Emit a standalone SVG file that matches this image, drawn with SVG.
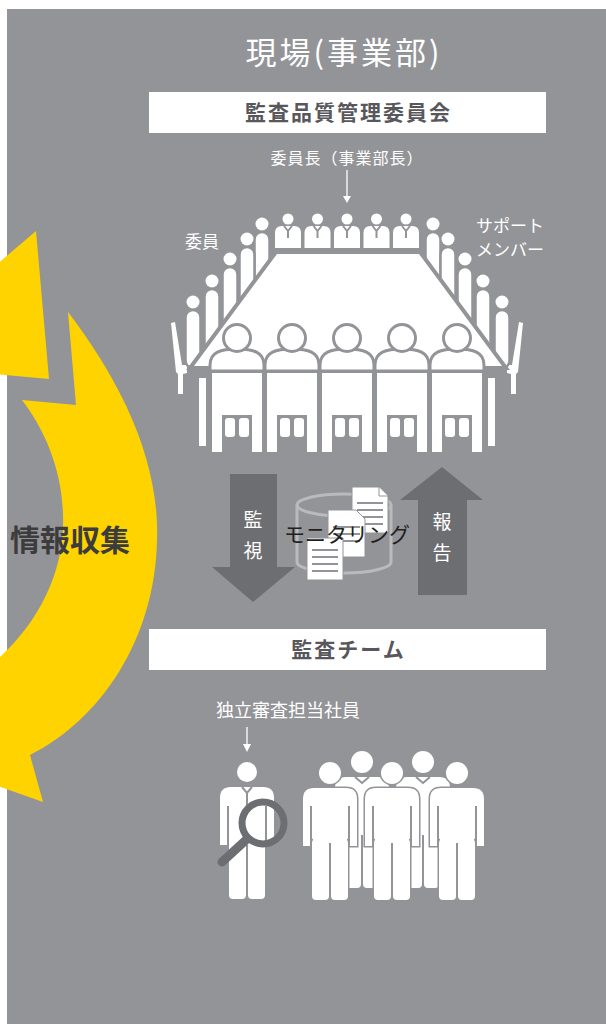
<svg xmlns="http://www.w3.org/2000/svg" width="606" height="1024" viewBox="0 0 606 1024">
<defs>
<style>
.jp{font-family:"Noto Sans CJK JP","Noto Sans",sans-serif}
.lbl{fill:#fff}
.boxt{font-weight:bold;fill:#58585c;font-size:21px}
.w{fill:#fff}
.g{fill:#939498}
.dk{fill:#6d6e71}
.cut{fill:#fff;stroke:#939498;stroke-width:3}
.sb{fill:#fff;stroke:#939498;stroke-width:2.5}
.ln{stroke:#939498;stroke-width:2;fill:none}
.pg{fill:#fff;stroke:#939498;stroke-width:1}
.fo{fill:#fff;stroke:#939498;stroke-width:3;paint-order:stroke}
</style>
<path id="pers" d="M-27,58 V11 Q-27,0 -16,0 H16 Q27,0 27,11 V58 Z"/>
</defs>

<rect width="606" height="1024" fill="#fff"/>
<rect x="7" y="9" width="599" height="1015" fill="#939498"/>

<!-- cycle arrow -->
<g id="cycle-arrow" fill="#fed300">
<path d="M-5,266 L36,231 L49,379 L-5,374 Z"/>
<path d="M68,312 C120,380 160,460 157,540 C155,640 100,720 30,755 L43,802 L-5,785 L-5,660 L0,657 C40,620 65,570 63,515 C62,470 45,430 22,400 L76,405 Z"/>
</g>
<text id="info-label" class="jp" x="70" y="551" font-size="30" font-weight="bold" fill="#3c3c3e" text-anchor="middle">情報収集</text>

<!-- header -->
<text id="title" class="jp lbl" x="344" y="64" font-size="31" letter-spacing="3" text-anchor="middle">現場(事業部)</text>

<g id="committee-box">
<rect x="149" y="92" width="397" height="41" fill="#fff"/>
<text class="jp boxt" x="348.5" y="120" text-anchor="middle" letter-spacing="2">監査品質管理委員会</text>
</g>

<g id="labels" class="jp lbl" font-size="16">
<text x="347" y="164" text-anchor="middle" letter-spacing="1">委員長（事業部長）</text>
<text x="202" y="248" text-anchor="middle" font-size="17">委員</text>
<text x="510" y="232" text-anchor="middle" font-size="17">サポート</text>
<text x="510" y="256" text-anchor="middle" font-size="17">メンバー</text>
</g>

<g id="connectors" stroke="#fff" stroke-width="1.3" fill="none">
<line x1="347" y1="170" x2="347" y2="200"/>
<path d="M343,196 L347,203 L351,196 Z" fill="#fff" stroke="none"/>
<line x1="247" y1="727" x2="247" y2="748"/>
<path d="M243,744 L247,752 L251,744 Z" fill="#fff" stroke="none"/>
</g>

<!-- meeting table -->
<g id="meeting">
<!-- side chairs and table legs -->
<g id="side-left">
<polygon class="w" points="171,323 175,322 182,365 187,365 187,373 183,374 183,394 178,394 178,374 176,372"/>
<rect class="w" x="199" y="378" width="7" height="68"/>
</g>
<g id="side-right" transform="translate(694,0) scale(-1,1)">
<polygon class="w" points="171,323 175,322 182,365 187,365 187,373 183,374 183,394 178,394 178,374 176,372"/>
<rect class="w" x="199" y="378" width="7" height="68"/>
</g>
<!-- members along left side -->
<g id="left-members">
<circle class="w" cx="262" cy="224" r="6.5"/><rect class="sb" x="254.5" y="232" width="15" height="62" rx="7.5"/>
<circle class="w" cx="247" cy="239" r="6.5"/><rect class="sb" x="239.5" y="247" width="15" height="62" rx="7.5"/>
<circle class="w" cx="230" cy="259" r="6.5"/><rect class="sb" x="222.5" y="267" width="15" height="62" rx="7.5"/>
<circle class="w" cx="212" cy="281" r="6.5"/><rect class="sb" x="204.5" y="289" width="15" height="62" rx="7.5"/>
<circle class="w" cx="193" cy="302" r="6.5"/><rect class="sb" x="185.5" y="310" width="15" height="58" rx="7.5"/>
</g>
<!-- support members along right side -->
<g id="right-members">
<circle class="w" cx="433" cy="224" r="6.5"/><rect class="sb" x="425.5" y="232" width="15" height="62" rx="7.5"/>
<circle class="w" cx="448" cy="239" r="6.5"/><rect class="sb" x="440.5" y="247" width="15" height="62" rx="7.5"/>
<circle class="w" cx="465" cy="259" r="6.5"/><rect class="sb" x="457.5" y="267" width="15" height="62" rx="7.5"/>
<circle class="w" cx="483" cy="281" r="6.5"/><rect class="sb" x="475.5" y="289" width="15" height="62" rx="7.5"/>
<circle class="w" cx="502" cy="302" r="6.5"/><rect class="sb" x="494.5" y="310" width="15" height="58" rx="7.5"/>
</g>
<!-- head-table row -->
<g id="head-row">
<g transform="translate(288,0)"><circle class="w" cx="0" cy="219" r="5.5"/><path class="w" d="M-13,248 V233 Q-13,226 -6,226 H6 Q13,226 13,233 V248 Z"/><path class="ln" stroke-width="1.3" d="M-4,226 L0,231 L4,226 M0,231 V238"/></g>
<g transform="translate(317.5,0)"><circle class="w" cx="0" cy="219" r="5.5"/><path class="w" d="M-13,248 V233 Q-13,226 -6,226 H6 Q13,226 13,233 V248 Z"/><path class="ln" stroke-width="1.3" d="M-4,226 L0,231 L4,226 M0,231 V238"/></g>
<g transform="translate(347,0)"><circle class="w" cx="0" cy="219" r="5.5"/><path class="w" d="M-13,248 V233 Q-13,226 -6,226 H6 Q13,226 13,233 V248 Z"/><path class="ln" stroke-width="1.3" d="M-4,226 L0,231 L4,226 M0,231 V238"/></g>
<g transform="translate(376.5,0)"><circle class="w" cx="0" cy="219" r="5.5"/><path class="w" d="M-13,248 V233 Q-13,226 -6,226 H6 Q13,226 13,233 V248 Z"/><path class="ln" stroke-width="1.3" d="M-4,226 L0,231 L4,226 M0,231 V238"/></g>
<g transform="translate(406,0)"><circle class="w" cx="0" cy="219" r="5.5"/><path class="w" d="M-13,248 V233 Q-13,226 -6,226 H6 Q13,226 13,233 V248 Z"/><path class="ln" stroke-width="1.3" d="M-4,226 L0,231 L4,226 M0,231 V238"/></g>
</g>
<!-- table top -->
<polygon id="table" points="276,252 420,252 506,368 190,368" fill="#fff" stroke="#939498" stroke-width="4"/>
<rect class="g" x="190" y="369" width="316" height="4"/>
<!-- front row, seen from behind -->
<g id="front-row">
<g transform="translate(237,0)"><rect class="w" x="-25" y="373" width="50" height="79"/><rect class="g" x="-15" y="415" width="30" height="37"/><rect class="w" x="-12" y="418" width="10" height="19" rx="3"/><rect class="w" x="2" y="418" width="10" height="19" rx="3"/><path class="cut" d="M-27,371 V365 C-27,352 -16,349 0,349 C16,349 27,352 27,365 V371 Z"/><circle class="cut" cx="0" cy="338" r="13.5"/></g>
<g transform="translate(292,0)"><rect class="w" x="-25" y="373" width="50" height="79"/><rect class="g" x="-15" y="415" width="30" height="37"/><rect class="w" x="-12" y="418" width="10" height="19" rx="3"/><rect class="w" x="2" y="418" width="10" height="19" rx="3"/><path class="cut" d="M-27,371 V365 C-27,352 -16,349 0,349 C16,349 27,352 27,365 V371 Z"/><circle class="cut" cx="0" cy="338" r="13.5"/></g>
<g transform="translate(347,0)"><rect class="w" x="-25" y="373" width="50" height="79"/><rect class="g" x="-15" y="415" width="30" height="37"/><rect class="w" x="-12" y="418" width="10" height="19" rx="3"/><rect class="w" x="2" y="418" width="10" height="19" rx="3"/><path class="cut" d="M-27,371 V365 C-27,352 -16,349 0,349 C16,349 27,352 27,365 V371 Z"/><circle class="cut" cx="0" cy="338" r="13.5"/></g>
<g transform="translate(402,0)"><rect class="w" x="-25" y="373" width="50" height="79"/><rect class="g" x="-15" y="415" width="30" height="37"/><rect class="w" x="-12" y="418" width="10" height="19" rx="3"/><rect class="w" x="2" y="418" width="10" height="19" rx="3"/><path class="cut" d="M-27,371 V365 C-27,352 -16,349 0,349 C16,349 27,352 27,365 V371 Z"/><circle class="cut" cx="0" cy="338" r="13.5"/></g>
<g transform="translate(457,0)"><rect class="w" x="-25" y="373" width="50" height="79"/><rect class="g" x="-15" y="415" width="30" height="37"/><rect class="w" x="-12" y="418" width="10" height="19" rx="3"/><rect class="w" x="2" y="418" width="10" height="19" rx="3"/><path class="cut" d="M-27,371 V365 C-27,352 -16,349 0,349 C16,349 27,352 27,365 V371 Z"/><circle class="cut" cx="0" cy="338" r="13.5"/></g>
</g>
</g>

<!-- monitoring / report -->
<g id="monitor-arrow">
<polygon class="dk" points="230,474 277,474 277,567 295,567 253,602 212,567 230,567"/>
<text class="jp lbl" x="253" y="527" font-size="19" text-anchor="middle">監</text>
<text class="jp lbl" x="253" y="558" font-size="19" text-anchor="middle">視</text>
</g>
<g id="report-arrow">
<polygon class="dk" points="442,467 483,500 467,500 467,595 418,595 418,500 400,500"/>
<text class="jp lbl" x="442" y="529" font-size="19" text-anchor="middle">報</text>
<text class="jp lbl" x="442" y="560" font-size="19" text-anchor="middle">告</text>
</g>
<g id="monitoring">
<path d="M297,505 V562 A47,11 0 0 0 391,562 V505" fill="none" stroke="#b9babd" stroke-width="3"/>
<ellipse cx="344" cy="505" rx="47" ry="11" fill="none" stroke="#b9babd" stroke-width="3"/>
<path class="pg" d="M352,487 H379 L388,496 V533 H352 Z"/>
<path class="pg" d="M379,487 V496 H388"/>
<path class="ln" d="M357,503 H383 M357,510 H383 M357,517 H383 M357,524 H383"/>
<path class="pg" d="M328,510 H356 L365,519 V557 H328 Z"/>
<path class="ln" d="M333,527 H360 M333,534 H360 M333,541 H360"/>
<path class="pg" d="M307,538 H343 V580 H307 Z"/>
<path class="ln" d="M312,550 H338 M312,557 H338 M312,564 H338 M312,571 H338"/>
<text class="jp" x="347" y="542" font-size="21" fill="#231f20" text-anchor="middle">モニタリング</text>
</g>

<g id="audit-team-box">
<rect x="149" y="629" width="397" height="41" fill="#fff"/>
<text class="jp boxt" x="348.5" y="657" text-anchor="middle" letter-spacing="2">監査チーム</text>
</g>
<text id="auditor-label" class="jp lbl" x="288" y="717" font-size="18" text-anchor="middle">独立審査担当社員</text>

<!-- independent reviewer -->
<g id="reviewer">
<circle class="w" cx="247" cy="772" r="10"/>
<use href="#pers" x="247" y="787" class="w"/>
<rect class="w" x="229" y="838" width="17" height="61" rx="4"/>
<rect class="w" x="248" y="838" width="17" height="61" rx="4"/>
<path class="ln" stroke-width="2.5" d="M228,806 V847 M266,806 V847"/>
<path class="ln" stroke-width="1.3" d="M242,787 L247,793 L252,787 M247,793 V805"/>
<circle cx="263" cy="823" r="21" fill="none" stroke="#6d6e71" stroke-width="7"/>
<line x1="246" y1="840" x2="222" y2="862" stroke="#6d6e71" stroke-width="9" stroke-linecap="round"/>
</g>

<!-- audit team -->
<g id="team">
<g transform="translate(362,762)">
<circle class="w" cx="0" cy="0" r="11"/>
<use href="#pers" y="15" class="w"/>
<rect class="w" x="-16" y="68" width="15" height="58" rx="4"/><rect class="w" x="1" y="68" width="15" height="58" rx="4"/>
<path class="ln" stroke-width="1.5" d="M-7,15 L0,21 L7,15"/>
</g>
<g transform="translate(423,762)">
<circle class="w" cx="0" cy="0" r="11"/>
<use href="#pers" y="15" class="w"/>
<rect class="w" x="-16" y="68" width="15" height="58" rx="4"/><rect class="w" x="1" y="68" width="15" height="58" rx="4"/>
<path class="ln" stroke-width="1.5" d="M-7,15 L0,21 L7,15"/>
</g>
<g transform="translate(330,773)">
<use href="#pers" y="15" class="fo"/>
<circle class="fo" cx="0" cy="0" r="11"/>
<rect class="fo" x="-18" y="66" width="17" height="61" rx="4"/><rect class="fo" x="1" y="66" width="17" height="61" rx="4"/>
<rect class="w" x="-17" y="62" width="34" height="8"/>
<path class="ln" stroke-width="2.5" d="M-19,33 V74 M19,33 V74"/>
</g>
<g transform="translate(392,773)">
<use href="#pers" y="15" class="fo"/>
<circle class="fo" cx="0" cy="0" r="11"/>
<rect class="fo" x="-18" y="66" width="17" height="61" rx="4"/><rect class="fo" x="1" y="66" width="17" height="61" rx="4"/>
<rect class="w" x="-17" y="62" width="34" height="8"/>
<path class="ln" stroke-width="2.5" d="M-19,33 V74 M19,33 V74"/>
</g>
<g transform="translate(457,773)">
<use href="#pers" y="15" class="fo"/>
<circle class="fo" cx="0" cy="0" r="11"/>
<rect class="fo" x="-18" y="66" width="17" height="61" rx="4"/><rect class="fo" x="1" y="66" width="17" height="61" rx="4"/>
<rect class="w" x="-17" y="62" width="34" height="8"/>
<path class="ln" stroke-width="2.5" d="M-19,33 V74 M19,33 V74"/>
</g>
</g>
</svg>
